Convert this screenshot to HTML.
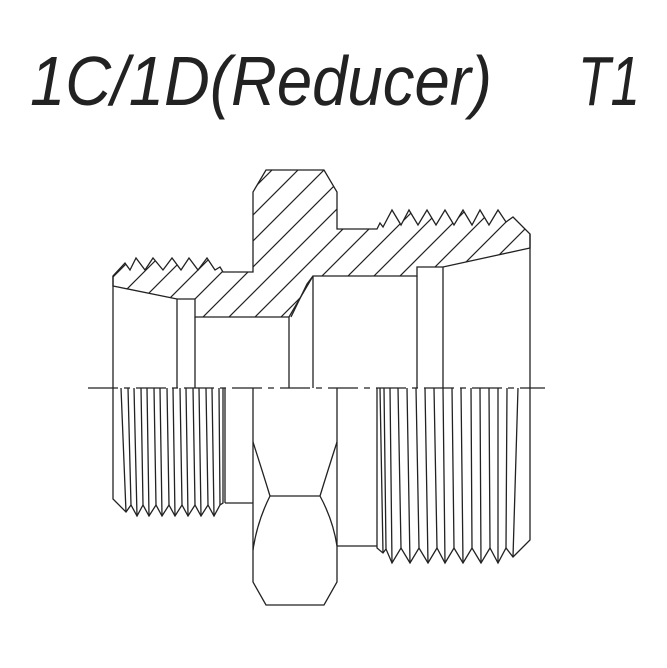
<!DOCTYPE html>
<html><head><meta charset="utf-8"><style>html,body{margin:0;padding:0;background:#fff}svg{display:block}</style></head>
<body>
<svg width="667" height="668" viewBox="0 0 667 668" xmlns="http://www.w3.org/2000/svg">
<defs>
<pattern id="h" patternUnits="userSpaceOnUse" width="26" height="26">
<path d="M0,26 L26,0 M-3,3 L3,-3 M23,29 L29,23" stroke="#222" stroke-width="1.2"/>
</pattern>
</defs>
<g font-family="Liberation Sans, sans-serif" font-style="italic" font-size="70" fill="#222">
<text x="30" y="105" textLength="462" lengthAdjust="spacingAndGlyphs">1C/1D(Reducer)</text>
<text x="578" y="105" textLength="62" lengthAdjust="spacingAndGlyphs">T1</text>
</g>
<g fill="none" stroke="#222" stroke-width="1.3" stroke-linejoin="miter">
<path fill="url(#h)" d="M113,276 L125,263 L130,270 L136,258 L145,270 L153,258 L163,270 L172,258 L181,270 L189,258 L198,270 L207,258 L215,270 L220,267 L223,272 L253,272 L253,192 L266,170 L324,170 L337,192 L337,229 L377,229 L380,223 L383,227 L392,210 L401,225 L409,210 L418,225 L427,210 L436,225 L445,210 L454,225 L463,210 L472,225 L480,210 L489,225 L498,210 L506,222 L513,217 L530,234 L530,248 L443,267 L417,267 L417,276 L313,276 L289,317 L195,317 L195,299 L177,299 L113,286 Z"/>
<path d="M291,317 L307,284 L313,276"/>
<path d="M113,276 L113,388 M177,299 L177,388 M195,317 L195,388 M289,317 L289,388 M313,276 L313,388 M417,276 L417,388 M443,267 L443,388 M530,234 L530,388"/>
<path d="M88,388 L545,388" stroke-dasharray="30 6 6 6"/>
<path d="M113,388 L113,499 L126,512 L131,505 L137,516 L143,505 L149,516 L156,505 L162,516 L169,505 L175,516 L182,505 L188,516 L195,505 L201,516 L208,505 L214,516 L220,505 L223,503 L223,388"/>
<path d="M126,512 L121,388 M131,505 L128,388 M137,516 L134,388 M143,505 L141,388 M149,516 L147,388 M156,505 L154,388 M162,516 L160,388 M169,505 L167,388 M175,516 L173,388 M182,505 L180,388 M188,516 L186,388 M195,505 L193,388 M201,516 L199,388 M208,505 L206,388 M214,516 L212,388 M220,505 L219,388 M225,503 L225,388"/>
<path d="M225,503 L253,503"/>
<path d="M253,388 L253,582 L266,605 L324,605 L337,582 L337,388"/>
<path d="M253,442 Q262,470 270,496 L320,496 Q328,470 337,442 M270,496 Q257,522 253,550 M320,496 Q333,520 337,546"/>
<path d="M337,546 L377,546"/>
<path d="M377,388 L377,548 L383,553 L386,549 L392,563 L401,548 L410,563 L419,548 L428,563 L437,548 L445,563 L454,548 L463,563 L472,548 L481,563 L490,548 L498,563 L506,548 L513,557 L530,540 L530,388"/>
<path d="M380,388 L383,553 M386,549 L384,388 M392,563 L390,388 M401,548 L398,388 M410,563 L407,388 M419,548 L416,388 M428,563 L425,388 M437,548 L434,388 M445,563 L443,388 M454,548 L452,388 M463,563 L461,388 M472,548 L471,388 M481,563 L480,388 M490,548 L489,388 M498,563 L498,388 M506,548 L507,388 M513,557 L518,388"/>
</g>
</svg>
</body></html>
